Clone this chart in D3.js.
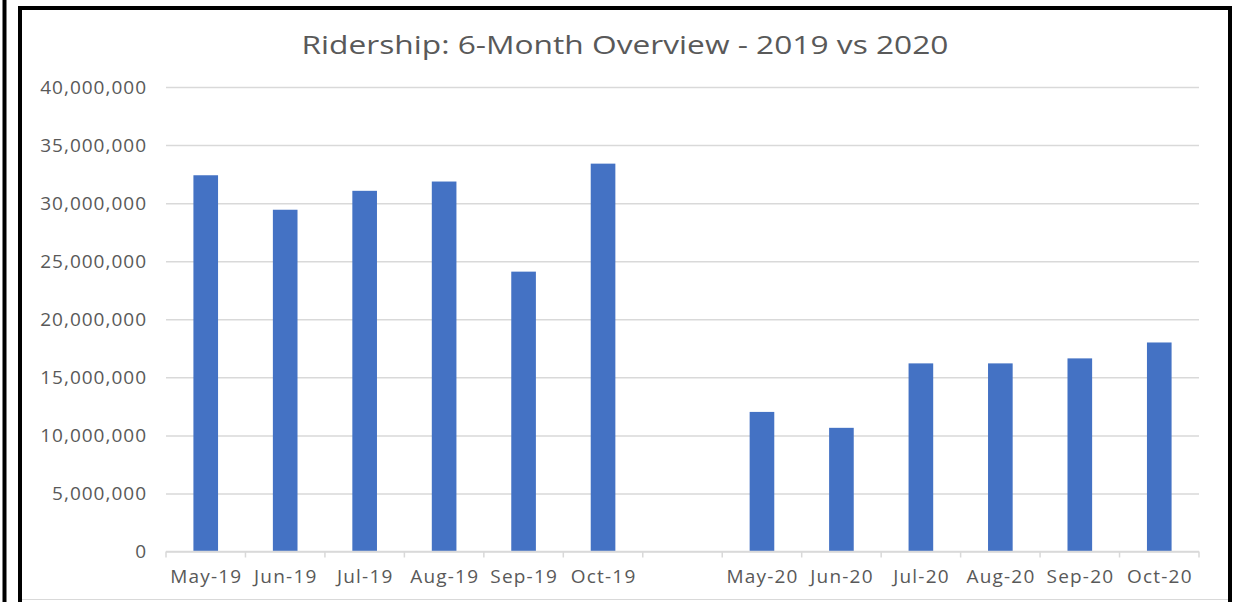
<!DOCTYPE html>
<html>
<head>
<meta charset="utf-8">
<script src="https://cdn.jsdelivr.net/npm/d3@7"></script>
<style>
  body { margin: 0; background: #fff; }
  text { font-family: "Open Sans", sans-serif; fill: #595959; }
</style>
</head>
<body>
<div id="Diagram"></div>
<script>
// categories, with one empty slot between the two years
var months = ["May-19", "Jun-19", "Jul-19", "Aug-19", "Sep-19", "Oct-19", "",
              "May-20", "Jun-20", "Jul-20", "Aug-20", "Sep-20", "Oct-20"];
var riders = [32400000, 29430000, 31060000, 31860000, 24100000, 33400000, null,
              12020000, 10650000, 16200000, 16200000, 16630000, 18000000];
var yTicks = [0, 5000000, 10000000, 15000000, 20000000, 25000000, 30000000, 35000000, 40000000];
var title = "Ridership: 6-Month Overview - 2019 vs 2020";

var width = 1239, height = 602;
var margin = {"left": 166, "right": 40, "top": 87, "bottom": 50};

var data = months.map(function(m, i) { return {month: m, value: riders[i], key: "c" + i}; });

var svg = d3.select("#Diagram")
  .append("svg")
    .attr("width", width)
    .attr("height", height);

// outer frames
svg.append("line")
  .attr("x1", 4.5).attr("x2", 4.5).attr("y1", 0).attr("y2", height)
  .attr("stroke", "#000").attr("stroke-width", 4);
svg.append("rect")
  .attr("x", 20).attr("y", 8).attr("width", 1210).attr("height", 620)
  .attr("fill", "#fff").attr("stroke", "#000").attr("stroke-width", 4);
svg.append("line")
  .attr("x1", 22).attr("x2", 1228).attr("y1", 599.5).attr("y2", 599.5)
  .attr("stroke", "#d9d9d9").attr("stroke-width", 1);

// title (stretched a little, like the original)
svg.append("text")
  .attr("x", 625).attr("y", 54)
  .attr("text-anchor", "middle")
  .attr("textLength", 647)
  .attr("lengthAdjust", "spacingAndGlyphs")
  .style("font-size", "26px")
  .text(title);

// scales
var x = d3.scaleBand()
  .domain(data.map(function(d) { return d.key; }))
  .range([margin.left, 1199])
  .paddingInner(0.69)
  .paddingOuter(0.345);

var y = d3.scaleLinear()
  .domain([0, 40000000])
  .range([551.5, margin.top]);

// gridlines + y labels
var yAxis = svg.append("g")
  .attr("transform", "translate(" + margin.left + ",0)")
  .call(d3.axisLeft(y)
    .tickValues(yTicks)
    .tickSize(-(1199 - margin.left))
    .tickPadding(19)
    .tickFormat(d3.format(",")));
yAxis.select(".domain").remove();
yAxis.selectAll(".tick line").attr("stroke", "#d9d9d9").attr("stroke-width", 1.5);
yAxis.selectAll(".tick text")
  .attr("fill", "#595959")
  .style("font-size", "19px")
  .style("letter-spacing", "1px")
  .style("font-family", "'Open Sans', sans-serif");

// bars
svg.append("g")
  .selectAll("rect")
  .data(data.filter(function(d) { return d.value != null; }))
  .enter()
  .append("rect")
    .attr("x", function(d) { return x(d.key); })
    .attr("y", function(d) { return y(d.value); })
    .attr("width", x.bandwidth())
    .attr("height", function(d) { return y(0) - y(d.value); })
    .attr("fill", "#4472c4");

// x axis line and category boundary ticks
var step = x.step();
var xAxis = svg.append("g");
xAxis.append("line")
  .attr("x1", margin.left).attr("x2", 1199)
  .attr("y1", y(0)).attr("y2", y(0))
  .attr("stroke", "#d9d9d9").attr("stroke-width", 1.5);
var bounds = data.map(function(d) { return x(d.key) - step * x.paddingInner() / 2; });
bounds.push(bounds[bounds.length - 1] + step);
xAxis.selectAll(".bound")
  .data(bounds)
  .enter()
  .append("line")
    .attr("class", "bound")
    .attr("x1", function(d) { return d; })
    .attr("x2", function(d) { return d; })
    .attr("y1", y(0)).attr("y2", y(0) + 6)
    .attr("stroke", "#d9d9d9").attr("stroke-width", 1.5);
xAxis.selectAll(".lbl")
  .data(data)
  .enter()
  .append("text")
    .attr("class", "lbl")
    .attr("x", function(d) { return x(d.key) + x.bandwidth() / 2 + 0.6; })
    .attr("y", 583)
    .attr("text-anchor", "middle")
    .style("font-size", "19px")
    .style("letter-spacing", "1.2px")
    .text(function(d) { return d.month; });
</script>
</body>
</html>
